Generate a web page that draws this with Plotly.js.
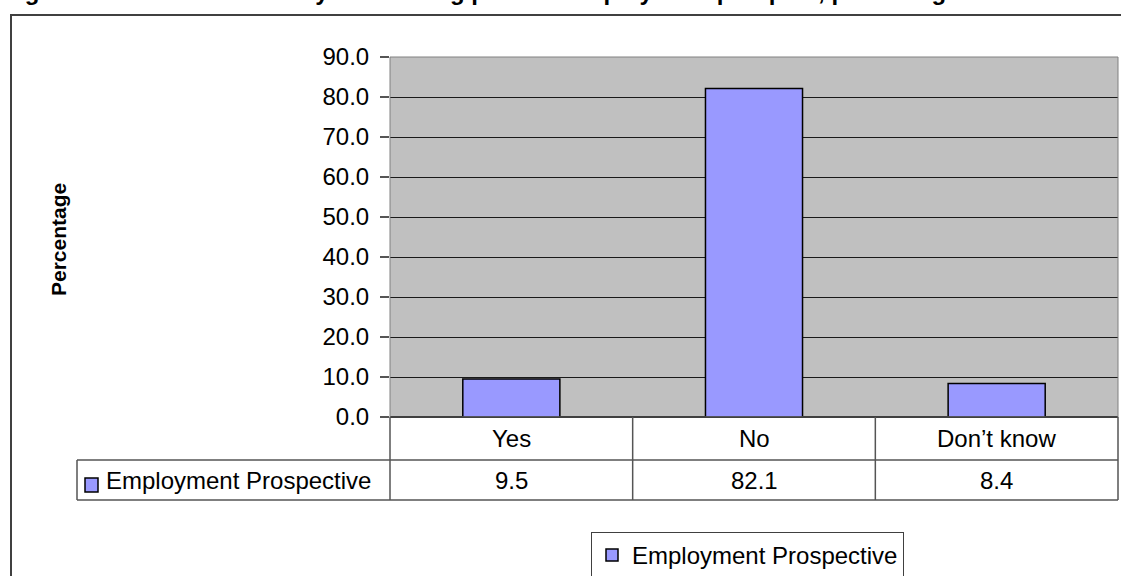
<!DOCTYPE html>
<html>
<head>
<meta charset="utf-8">
<script src="https://cdn.plot.ly/plotly-3.0.1.min.js"></script>
<style>html,body{margin:0;padding:0;background:#fff;}#chart{width:1121px;height:576px;}</style>
</head>
<body>
<div id="chart"></div>
<script>
// ---- data ----
const categories = ['Yes', 'No', 'Don\u2019t know'];
const values = [9.5, 82.1, 8.4];
const seriesName = 'Employment Prospective';
const yAxisTitle = 'Percentage';
const chartTitle = 'Figure 4.10: Distribution of youth having positive employment prospect, percentage';

// ---- styling / geometry ----
const FONT = 'Liberation Sans, Arial, sans-serif';
const FS = 24;
const BAR_COLOR = '#9999FF';
const W = 1121, H = 576;
const L = 390, R = 1118, T = 57, B = 417;
const px = x => (x - L) / (R - L);
const py = y => (B - y) / (B - T);
const lineStyle = {color: '#555', width: 1.5};

const shapes = [
  // outer frame
  {type: 'rect', xref: 'paper', yref: 'paper', x0: px(11), x1: px(1130), y0: py(600), y1: py(15),
   line: {color: '#404040', width: 2}, fillcolor: 'rgba(0,0,0,0)', layer: 'below'},
  // plot area border
  {type: 'rect', xref: 'paper', yref: 'paper', x0: 0, x1: 1, y0: 0, y1: 1,
   line: {color: '#808080', width: 1}, fillcolor: 'rgba(0,0,0,0)'},
  // table horizontal lines
  {type: 'line', xref: 'paper', yref: 'paper', x0: px(77), x1: 1, y0: py(460), y1: py(460), line: lineStyle},
  {type: 'line', xref: 'paper', yref: 'paper', x0: px(77), x1: 1, y0: py(500), y1: py(500), line: lineStyle},
  // table vertical lines
  {type: 'line', xref: 'paper', yref: 'paper', x0: px(77), x1: px(77), y0: py(460), y1: py(500), line: lineStyle},
  {type: 'line', xref: 'paper', yref: 'paper', x0: 0, x1: 0, y0: 0, y1: py(500), line: lineStyle},
  {type: 'line', xref: 'paper', yref: 'paper', x0: 1, x1: 1, y0: 0, y1: py(500), line: lineStyle},
  // table legend key
  {type: 'rect', xref: 'paper', yref: 'paper', x0: px(85), x1: px(98), y0: py(492), y1: py(478),
   fillcolor: BAR_COLOR, line: {color: '#000', width: 1.5}}
];
// category separators in the table, placed on the category axis
for (let i = 0; i < categories.length - 1; i++) {
  shapes.push({type: 'line', xref: 'x', yref: 'paper', x0: i + 0.5, x1: i + 0.5,
               y0: 0, y1: py(500), line: lineStyle});
}

const annotations = [];
categories.forEach((c, i) => {
  annotations.push({x: c, xref: 'x', y: py(438), yref: 'paper', text: c, showarrow: false,
                    font: {family: FONT, size: FS, color: '#000'}, xanchor: 'center', yanchor: 'middle'});
  annotations.push({x: c, xref: 'x', y: py(480), yref: 'paper', text: values[i].toFixed(1), showarrow: false,
                    font: {family: FONT, size: FS, color: '#000'}, xanchor: 'center', yanchor: 'middle'});
});
annotations.push({x: px(104), xref: 'paper', y: py(480), yref: 'paper', text: seriesName, showarrow: false,
                  font: {family: FONT, size: FS, color: '#000'}, xanchor: 'left', yanchor: 'middle'});
annotations.push({x: px(58), xref: 'paper', y: py(240), yref: 'paper', text: '<b>' + yAxisTitle + '</b>',
                  showarrow: false, textangle: -90, font: {family: FONT, size: 21, color: '#000'},
                  xanchor: 'center', yanchor: 'middle'});

const trace = {
  type: 'bar', x: categories, y: values, name: seriesName,
  marker: {color: BAR_COLOR, line: {color: '#000', width: 1.5}},
  hoverinfo: 'skip', showlegend: true
};

const layout = {
  width: W, height: H,
  margin: {l: L, r: W - R, t: T, b: H - B, pad: 0, autoexpand: false},
  paper_bgcolor: '#fff', plot_bgcolor: '#C0C0C0',
  font: {family: FONT, size: FS, color: '#000'},
  bargap: 0.6,
  title: {text: '<b>' + chartTitle + '</b>', font: {family: FONT, size: 24, color: '#000'},
          xref: 'container', yref: 'container', x: 0.003, xanchor: 'left', y: 1, yanchor: 'bottom'},
  xaxis: {type: 'category', range: [-0.5, 2.5], showticklabels: false, showgrid: false,
          zeroline: false, showline: false, ticks: '', fixedrange: true, automargin: false},
  yaxis: {range: [0, 90], dtick: 10, tick0: 0, tickformat: '.1f', showgrid: true, gridcolor: '#1a1a1a',
          gridwidth: 1, zeroline: true, zerolinecolor: '#000', zerolinewidth: 2, showline: false,
          ticks: 'outside', ticklen: 9, tickcolor: '#555', tickwidth: 1.5, ticklabelstandoff: 6,
          tickfont: {family: FONT, size: FS, color: '#000'}, fixedrange: true, automargin: false},
  showlegend: true,
  legend: {x: px(591), y: py(532), xanchor: 'left', yanchor: 'top', bordercolor: '#404040', borderwidth: 1,
           bgcolor: '#fff', font: {family: FONT, size: FS, color: '#000'}, itemwidth: 30},
  shapes: shapes,
  annotations: annotations
};

Plotly.newPlot('chart', [trace], layout, {staticPlot: true, displayModeBar: false});
</script>
</body>
</html>
